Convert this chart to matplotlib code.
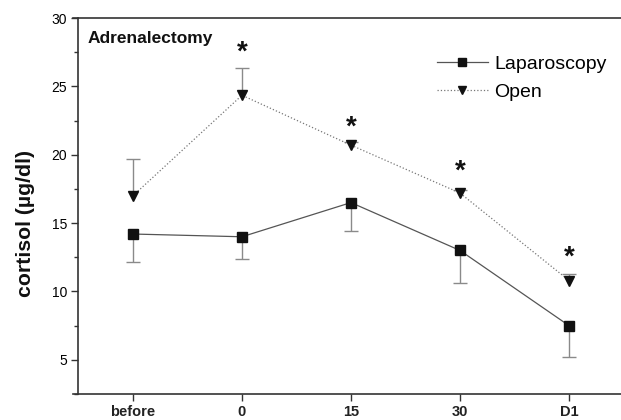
import matplotlib
matplotlib.use("Agg")
import matplotlib.pyplot as plt
import numpy as np

plt.rcParams['font.family'] = ['Liberation Sans', 'DejaVu Sans']

categories = ["before", "0", "15", "30", "D1"]
lap_mean = [14.2, 14.0, 16.5, 13.0, 7.5]
lap_err = [2.05, 1.65, 2.05, 2.4, 2.3]
open_mean = [17.0, 24.35, 20.7, 17.2, 10.8]
open_err = [2.7, 2.0, 0.2, 0.2, 0.5]
star_y = [None, 27.45, 21.95, 18.75, 12.5]
yticks = [5, 10, 15, 20, 25, 30]

fig = plt.figure(figsize=(6.21, 4.2), dpi=100)
ax = fig.add_axes([73/621, 26/420, 550.5/621, 376/420])
x = np.arange(len(categories))

lap_mean_a = np.array(lap_mean)
open_mean_a = np.array(open_mean)
lap_low = lap_mean_a - np.array(lap_err)
open_high = open_mean_a + np.array(open_err)
capw = 0.065
ecol = '#8a8a8a'
ax.vlines(x, lap_low, lap_mean_a, colors=ecol, lw=1.0, zorder=2)
ax.hlines(lap_low, x - capw, x + capw, colors=ecol, lw=1.0, zorder=2)
ax.vlines(x, open_mean_a, open_high, colors=ecol, lw=1.0, zorder=2)
ax.hlines(open_high, x - capw, x + capw, colors=ecol, lw=1.0, zorder=2)

ax.plot(x, lap_mean, '-', color='#555555', lw=0.9, marker='s', ms=7,
        mfc='#111111', mec='#111111', label='Laparoscopy', zorder=3)
ax.plot(x, open_mean, ':', color='#777777', lw=0.9, marker='v', ms=7.5,
        mfc='#111111', mec='#111111', label='Open', zorder=3)

for xi, sy in zip(x, star_y):
    if sy is not None:
        ax.text(xi, sy, '*', ha='center', va='center', fontsize=20,
                fontweight='bold', color='#111111')

ax.set_xlim(-0.55, 4.5)
ax.set_ylim(2.55, 30)
ax.set_xticks(x)
ax.set_xticklabels(categories, fontsize=10.5, fontweight='bold', color='#222222')
ax.set_yticks(yticks)
ax.set_yticks(np.arange(2.5, 30, 2.5), minor=True)
ax.set_yticklabels([str(v) for v in yticks], fontsize=11.5, fontweight='bold', color='#222222')
ax.tick_params(axis='both', which='major', direction='out', length=5, width=1, color='#333333', pad=3)
ax.tick_params(axis='y', which='minor', direction='out', length=3, width=1, color='#333333')
ax.tick_params(axis='x', which='minor', bottom=False)

ax.spines['right'].set_visible(False)
ax.spines['left'].set_position(('axes', 0.05/5.05))
for s in ['left', 'top', 'bottom']:
    ax.spines[s].set_linewidth(1.2)
    ax.spines[s].set_color('#333333')

ax.set_ylabel('cortisol (µg/dl)', fontsize=15.3, fontweight='bold', color='#111111')
ax.yaxis.set_label_coords(-0.069, 0.453)

fig.text(88/621, (420-38)/420, 'Adrenalectomy', fontsize=12.5, fontweight='bold',
         ha='left', va='center', color='#111111')

leg = ax.legend(loc='upper left', bbox_to_anchor=((437-73)/550.5, (394-55)/376),
                frameon=False, fontsize=14, handlelength=2.6, handletextpad=0.35,
                labelspacing=0.55, borderpad=0, borderaxespad=0, markerscale=0.85)

fig.savefig('out.png', dpi=100)
